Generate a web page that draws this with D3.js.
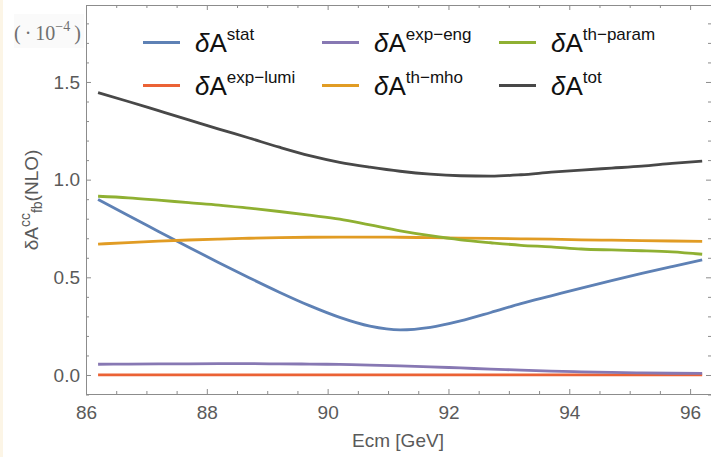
<!DOCTYPE html>
<html><head><meta charset="utf-8">
<script src="https://cdn.jsdelivr.net/npm/d3@7"></script>
<style>body{margin:0;background:#fff}svg{display:block}</style>
</head><body><svg id="c" width="711" height="457"></svg>
<script>
const energies = [86.2,86.7,87.2,87.7,88.2,88.7,89.2,89.7,90.2,90.7,91.2,91.7,92.2,92.7,93.2,93.7,94.2,94.7,95.2,95.7,96.2];
const stat     = [0.899,0.816,0.735,0.654,0.575,0.498,0.424,0.355,0.295,0.250,0.231,0.244,0.277,0.320,0.365,0.405,0.445,0.483,0.520,0.555,0.589];
const expLumi  = [0.001,0.001,0.001,0.001,0.001,0.001,0.001,0.001,0.001,0.001,0.001,0.001,0.001,0.001,0.001,0.001,0.001,0.001,0.001,0.001,0.001];
const expEng   = [0.055,0.056,0.057,0.057,0.058,0.058,0.057,0.056,0.054,0.051,0.047,0.042,0.036,0.030,0.025,0.020,0.016,0.013,0.011,0.009,0.008];
const thMho    = [0.670,0.678,0.685,0.691,0.696,0.700,0.703,0.705,0.706,0.706,0.705,0.703,0.701,0.699,0.697,0.695,0.692,0.690,0.688,0.686,0.684];
const thParam  = [0.915,0.907,0.895,0.882,0.870,0.854,0.837,0.818,0.798,0.768,0.738,0.713,0.692,0.677,0.664,0.656,0.645,0.640,0.636,0.630,0.618];
const tot      = [1.445,1.400,1.353,1.306,1.259,1.213,1.166,1.123,1.089,1.064,1.043,1.028,1.020,1.018,1.025,1.038,1.049,1.059,1.069,1.083,1.095];
const seriesNames = ["stat","exp\u2212lumi","exp\u2212eng","th\u2212mho","th\u2212param","tot"];
const seriesColors = ["#5E81B5","#EB6235","#8778B3","#E19C24","#8FB032","#484848"];
const xTicks = [86,88,90,92,94,96];
const yTicks = [0.0,0.5,1.0,1.5];
const xMinor = [86.5,87,87.5,88.5,89,89.5,90.5,91,91.5,92.5,93,93.5,94.5,95,95.5,96.5];
const yMinor = [-0.1,0.1,0.2,0.3,0.4,0.6,0.7,0.8,0.9,1.1,1.2,1.3,1.4,1.6,1.7,1.8];

const svg = d3.select("#c");
svg.append("rect").attr("width",711).attr("height",457).attr("fill","#fff");
svg.append("rect").attr("x",0).attr("y",0).attr("width",3).attr("height",457).attr("fill","#fcf5e6");

const L=86, R=711, T=5, B=394;
const x = d3.scaleLinear().domain([86, 96.346]).range([L, R]);
const y = d3.scaleLinear().domain([-0.0973, 1.894]).range([B, T]);

const frameColor = "#8c8c8c";
const labColor = "#5a5a5a";
const font = "Liberation Sans, Arial, sans-serif";

function styleAxis(g){
  g.select(".domain").attr("stroke",frameColor);
  g.selectAll(".tick line").attr("stroke",frameColor);
  g.selectAll("text").attr("fill",labColor).attr("font-family",font).attr("font-size",19);
}
// bottom
svg.append("g").attr("transform",`translate(0,${B})`)
  .call(d3.axisBottom(x).tickValues(xTicks).tickSizeInner(-5).tickSizeOuter(0).tickPadding(12).tickFormat(d3.format("d")))
  .call(styleAxis).call(g=>g.selectAll("text").attr("dy","0.71em"));
svg.append("g").attr("transform",`translate(0,${B})`)
  .call(d3.axisBottom(x).tickValues(xMinor).tickSizeInner(-3).tickSizeOuter(0).tickFormat(""))
  .call(styleAxis);
// top
svg.append("g").attr("transform",`translate(0,${T})`)
  .call(d3.axisTop(x).tickValues(xTicks).tickSizeInner(-5).tickSizeOuter(0).tickFormat(""))
  .call(styleAxis);
svg.append("g").attr("transform",`translate(0,${T})`)
  .call(d3.axisTop(x).tickValues(xMinor).tickSizeInner(-3).tickSizeOuter(0).tickFormat(""))
  .call(styleAxis);
// left
svg.append("g").attr("transform",`translate(${L},0)`)
  .call(d3.axisLeft(y).tickValues(yTicks).tickSizeInner(-5).tickSizeOuter(0).tickPadding(6).tickFormat(d3.format(".1f")))
  .call(styleAxis);
svg.append("g").attr("transform",`translate(${L},0)`)
  .call(d3.axisLeft(y).tickValues(yMinor).tickSizeInner(-3).tickSizeOuter(0).tickFormat(""))
  .call(styleAxis);
// right (frame line sits just outside the window; only ticks show)
svg.append("g").attr("transform",`translate(${R},0)`)
  .call(d3.axisRight(y).tickValues(yTicks).tickSizeInner(-5).tickSizeOuter(0).tickFormat(""))
  .call(styleAxis);
svg.append("g").attr("transform",`translate(${R},0)`)
  .call(d3.axisRight(y).tickValues(yMinor).tickSizeInner(-3).tickSizeOuter(0).tickFormat(""))
  .call(styleAxis);

// lines
const allSeries = [stat, expLumi, expEng, thMho, thParam, tot];
const line = d3.line().x((d,i)=>x(energies[i])).y(d=>y(d)).curve(d3.curveMonotoneX);
const drawOrder = [1,2,0,3,4,5];
drawOrder.forEach(k=>{
  svg.append("path").datum(allSeries[k]).attr("d",line)
    .attr("fill","none").attr("stroke",seriesColors[k]).attr("stroke-width",2.8)
    .attr("stroke-linejoin","round");
});

// legend
const colX = [143, 322, 499];
const rowY = [52, 95];
const legendOrder = [[0,0],[1,0],[0,1],[1,1],[0,2],[1,2]]; // [row,col]
legendOrder.forEach(([r,c],k)=>{
  svg.append("line").attr("x1",colX[c]).attr("x2",colX[c]+37)
    .attr("y1",rowY[r]-9.5).attr("y2",rowY[r]-9.5)
    .attr("stroke",seriesColors[k]).attr("stroke-width",3);
  const t = svg.append("text").attr("x",colX[c]+52).attr("y",rowY[r])
    .attr("font-family",font).attr("font-size",26).attr("fill","#111");
  t.append("tspan").attr("font-style","italic").text("\u03B4");
  t.append("tspan").text("A");
  t.append("tspan").attr("font-size",17).attr("dy",-12).text(seriesNames[k]);
});

// axis titles
svg.append("text").attr("x",398).attr("y",447).attr("text-anchor","middle")
  .attr("font-family",font).attr("font-size",19).attr("fill",labColor).text("Ecm [GeV]");
const yt = svg.append("text").attr("transform","translate(38,200) rotate(-90)")
  .attr("text-anchor","middle").attr("font-family",font).attr("font-size",19).attr("fill",labColor);
yt.append("tspan").text("\u03B4A");
yt.append("tspan").attr("font-size",14).attr("dy",-8).text("cc");
yt.append("tspan").attr("font-size",14).attr("dy",12).text("fb");
yt.append("tspan").attr("dy",-4).text("(NLO)");

// scale factor label
svg.append("rect").attr("x",14).attr("y",14).attr("width",70).attr("height",34).attr("fill","#fafafa");
const sc = svg.append("text").attr("x",14).attr("y",40)
  .attr("font-family","Liberation Serif, Times New Roman, serif").attr("font-size",20).attr("fill","#707070");
sc.append("tspan").text("(\u2009\u00B7\u200910");
sc.append("tspan").attr("font-size",14).attr("dy",-9).text("\u22124");
sc.append("tspan").attr("dy",9).text("\u2009)");
</script></body></html>
